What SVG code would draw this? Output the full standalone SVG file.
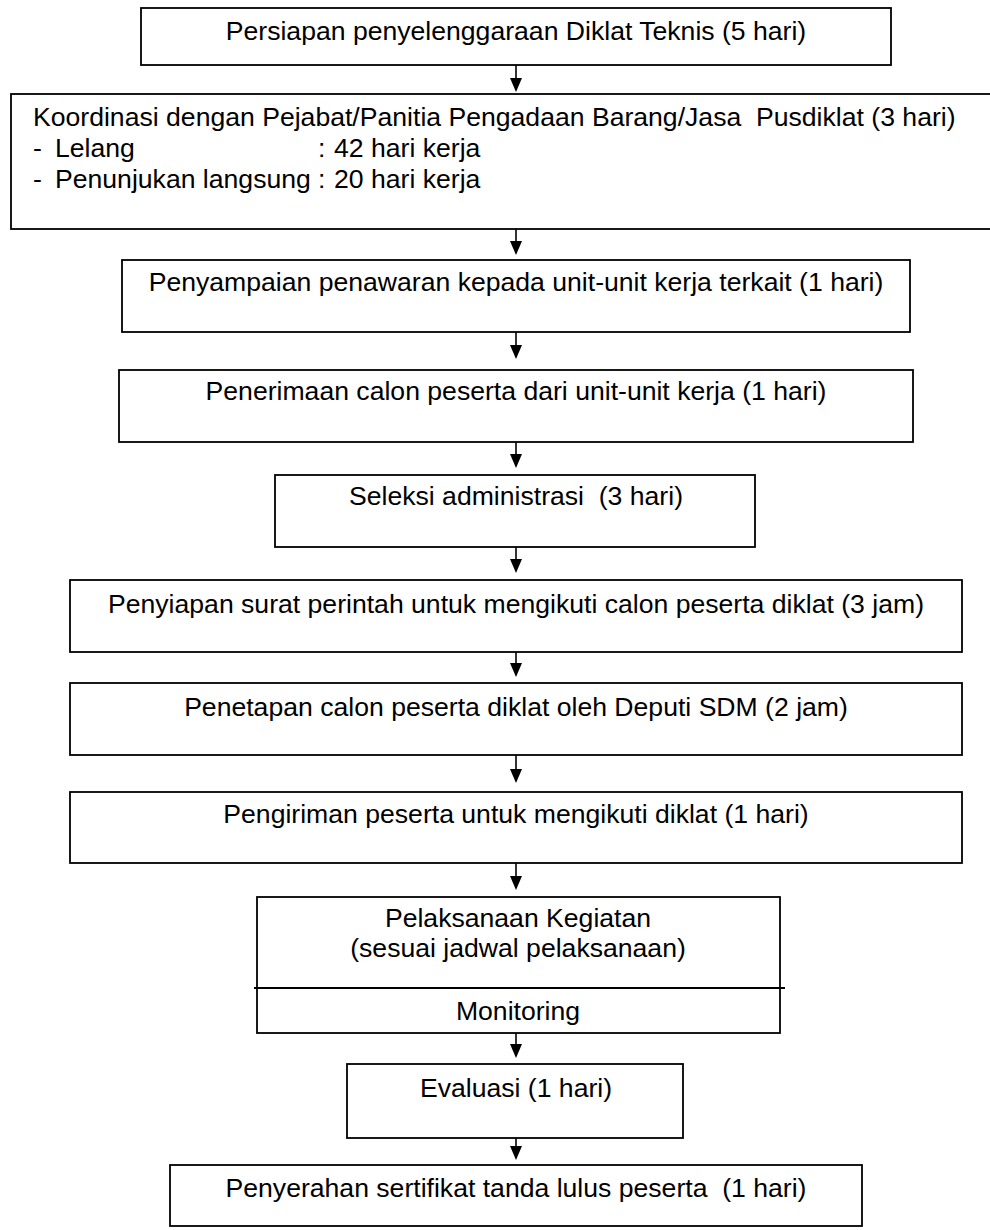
<svg xmlns="http://www.w3.org/2000/svg" width="990" height="1230" viewBox="0 0 990 1230">
<style>
.box{fill:#fff;stroke:#000;stroke-width:1.8}
.t{font-family:"Liberation Sans",Arial,sans-serif;font-size:26.6px;fill:#000;white-space:pre}
.c{text-anchor:middle}
.conn{stroke:#000;stroke-width:1.6;fill:none}
</style>
<defs>
<marker id="ah" markerWidth="14" markerHeight="12" refX="2" refY="6" orient="auto" markerUnits="userSpaceOnUse" viewBox="0 0 14 12">
<path d="M0,0 L14,6 L0,12 Z" fill="#000"/>
</marker>
</defs>
<rect width="990" height="1230" fill="#fff"/>
<g id="n1"><rect class="box" x="141" y="8" width="750" height="57"/><text class="t c" x="516" y="40">Persiapan penyelenggaraan Diklat Teknis (5 hari)</text></g>
<g id="n2"><rect class="box" x="11" y="94" width="1000" height="135"/>
<text class="t" x="33" y="126" xml:space="preserve">Koordinasi dengan Pejabat/Panitia Pengadaan Barang/Jasa  Pusdiklat (3 hari)</text>
<text class="t" x="33" y="157">-</text><text class="t" x="55" y="157">Lelang</text><text class="t" x="318" y="157">:</text><text class="t" x="334" y="157">42 hari kerja</text>
<text class="t" x="33" y="188">-</text><text class="t" x="55" y="188">Penunjukan langsung</text><text class="t" x="318" y="188">:</text><text class="t" x="334" y="188">20 hari kerja</text>
</g>
<g id="n3"><rect class="box" x="122" y="260" width="788" height="72"/><text class="t c" x="516" y="291">Penyampaian penawaran kepada unit-unit kerja terkait (1 hari)</text></g>
<g id="n4"><rect class="box" x="119" y="370" width="794" height="72"/><text class="t c" x="516" y="400">Penerimaan calon peserta dari unit-unit kerja (1 hari)</text></g>
<g id="n5"><rect class="box" x="275" y="475" width="480" height="72"/><text class="t c" x="516" y="505" xml:space="preserve">Seleksi administrasi  (3 hari)</text></g>
<g id="n6"><rect class="box" x="70" y="580" width="892" height="72"/><text class="t c" x="516" y="613">Penyiapan surat perintah untuk mengikuti calon peserta diklat (3 jam)</text></g>
<g id="n7"><rect class="box" x="70" y="683" width="892" height="72"/><text class="t c" x="516" y="716">Penetapan calon peserta diklat oleh Deputi SDM (2 jam)</text></g>
<g id="n8"><rect class="box" x="70" y="792" width="892" height="71"/><text class="t c" x="516" y="823">Pengiriman peserta untuk mengikuti diklat (1 hari)</text></g>
<g id="n9"><rect class="box" x="257" y="897" width="523" height="136"/>
<line x1="254" y1="988" x2="785" y2="988" stroke="#000" stroke-width="1.8"/>
<text class="t c" x="518" y="927">Pelaksanaan Kegiatan</text>
<text class="t c" x="518" y="957">(sesuai jadwal pelaksanaan)</text>
<text class="t c" x="518" y="1020">Monitoring</text></g>
<g id="n10"><rect class="box" x="347" y="1064" width="336" height="74"/><text class="t c" x="516" y="1097">Evaluasi (1 hari)</text></g>
<g id="n11"><rect class="box" x="170" y="1165" width="692" height="61"/><text class="t c" x="516" y="1197" xml:space="preserve">Penyerahan sertifikat tanda lulus peserta  (1 hari)</text></g>
<g id="connectors">
<line class="conn" x1="516" y1="65" x2="516" y2="80" marker-end="url(#ah)"/>
<line class="conn" x1="516" y1="229" x2="516" y2="243" marker-end="url(#ah)"/>
<line class="conn" x1="516" y1="332" x2="516" y2="347" marker-end="url(#ah)"/>
<line class="conn" x1="516" y1="442" x2="516" y2="456" marker-end="url(#ah)"/>
<line class="conn" x1="516" y1="547" x2="516" y2="561" marker-end="url(#ah)"/>
<line class="conn" x1="516" y1="652" x2="516" y2="665" marker-end="url(#ah)"/>
<line class="conn" x1="516" y1="755" x2="516" y2="771" marker-end="url(#ah)"/>
<line class="conn" x1="516" y1="863" x2="516" y2="878" marker-end="url(#ah)"/>
<line class="conn" x1="516" y1="1033" x2="516" y2="1046" marker-end="url(#ah)"/>
<line class="conn" x1="516" y1="1138" x2="516" y2="1148" marker-end="url(#ah)"/>
</g>
</svg>
